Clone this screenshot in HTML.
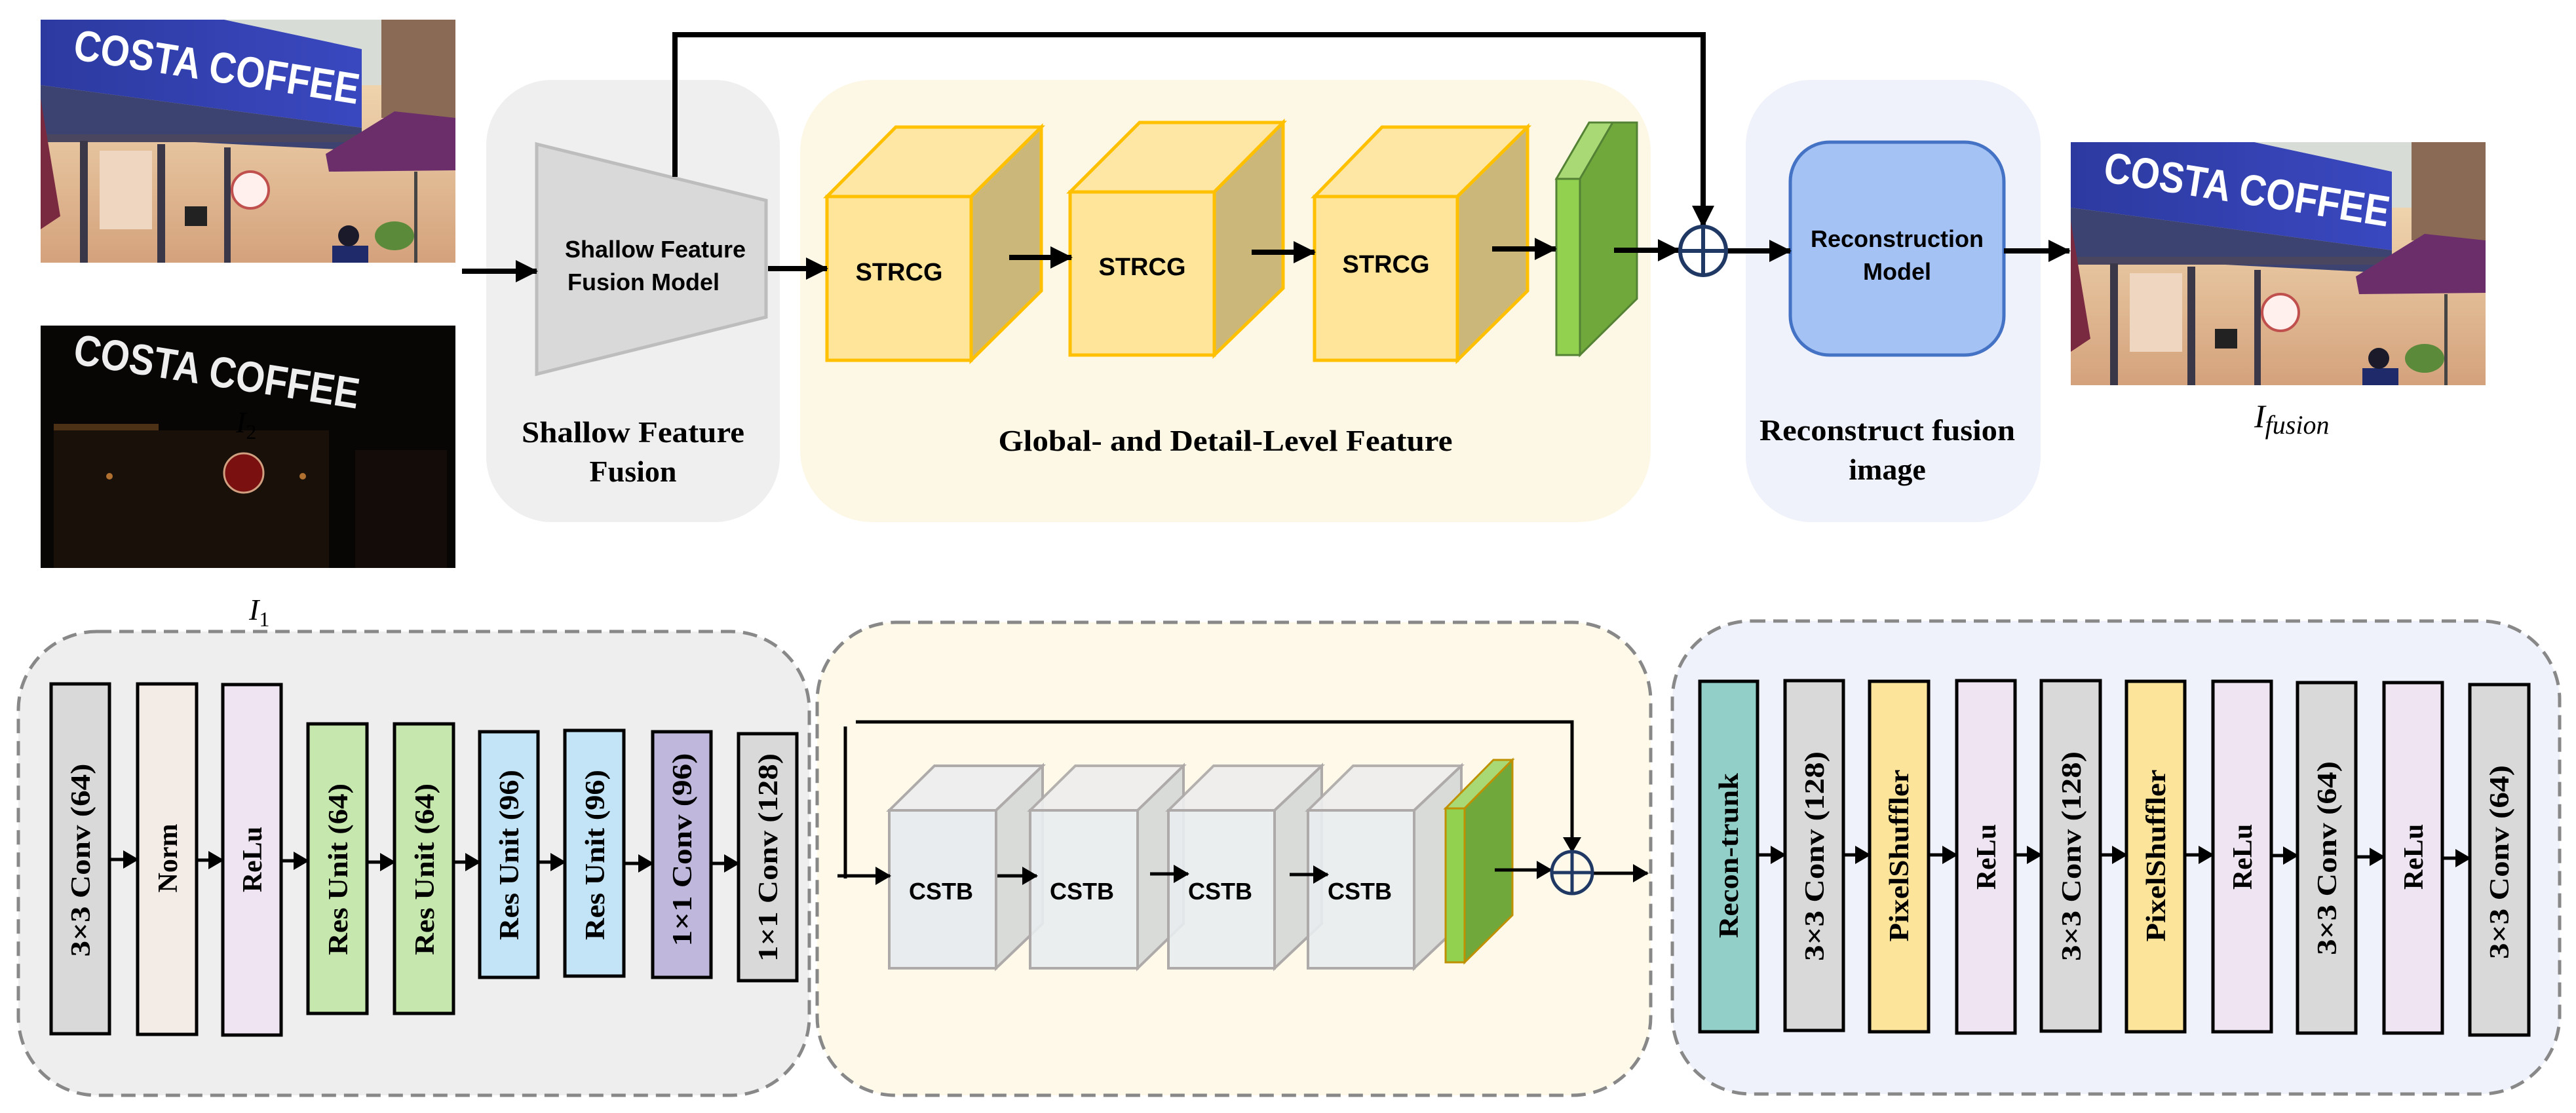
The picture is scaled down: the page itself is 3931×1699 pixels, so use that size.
<!DOCTYPE html>
<html><head><meta charset="utf-8"><style>
html,body{margin:0;padding:0;background:#fff;}
svg{display:block;}
.sans{font-family:"Liberation Sans",sans-serif;font-weight:bold;}
.serif{font-family:"Liberation Serif",serif;font-weight:bold;}
</style></head><body>
<svg width="3931" height="1699" viewBox="0 0 3931 1699" xmlns="http://www.w3.org/2000/svg">
<defs>
<marker id="ab" markerUnits="userSpaceOnUse" markerWidth="34" markerHeight="34" refX="32" refY="17" orient="auto"><path d="M0,0 L34,17 L0,34 z" fill="#000"/></marker>
<marker id="as" markerUnits="userSpaceOnUse" markerWidth="24" markerHeight="28" refX="22" refY="14" orient="auto"><path d="M0,0 L24,14 L0,28 z" fill="#000"/></marker>
<linearGradient id="signg" x1="0" y1="0" x2="1" y2="0"><stop offset="0" stop-color="#2c3aa0"/><stop offset="1" stop-color="#3a48c0"/></linearGradient>
<linearGradient id="inner" x1="0" y1="0" x2="0" y2="1"><stop offset="0" stop-color="#f8e6c0"/><stop offset="1" stop-color="#d4a27c"/></linearGradient>
<g id="photo">
  <rect x="0" y="0" width="633" height="371" fill="url(#inner)"/>
  <rect x="280" y="0" width="353" height="100" fill="#d8dcd6"/>
  <rect x="520" y="0" width="113" height="150" fill="#8a6a55"/>
  <polygon points="0,0 280,0 490,45 490,165 0,100" fill="url(#signg)"/>
  <polygon points="0,100 490,165 490,200 0,175" fill="#3c4370"/>
  <rect x="0" y="175" width="633" height="12" fill="#4a4660"/>
  <rect x="60" y="185" width="12" height="186" fill="#3a3848"/>
  <rect x="178" y="190" width="12" height="181" fill="#3a3848"/>
  <rect x="280" y="195" width="10" height="176" fill="#3a3848"/>
  <rect x="90" y="200" width="80" height="120" fill="#efd6c0"/>
  <circle cx="320" cy="260" r="28" fill="#fff0ee" stroke="#c0504d" stroke-width="4"/>
  <rect x="220" y="285" width="34" height="30" fill="#222"/>
  <polygon points="435,205 540,140 633,150 633,230 440,232" fill="#6b2e6a"/>
  <polygon points="0,120 30,300 0,320" fill="#7a2a40"/>
  <rect x="570" y="232" width="5" height="139" fill="#444"/>
  <ellipse cx="540" cy="330" rx="30" ry="22" fill="#5a8a3a"/>
  <rect x="445" y="345" width="55" height="26" fill="#1e2a6a"/>
  <circle cx="470" cy="330" r="16" fill="#1a1a2a"/>
  <g transform="translate(48,60) rotate(9)"><text x="0" y="0" font-family="Liberation Sans,sans-serif" font-weight="bold" font-size="66" fill="#fff" textLength="440" lengthAdjust="spacingAndGlyphs">COSTA COFFEE</text></g>
</g>
</defs>

<use href="#photo" x="62" y="30"/>
<g transform="translate(62,497)">
  <rect x="0" y="0" width="633" height="370" fill="#080505"/>
  <rect x="20" y="150" width="160" height="10" fill="#6a4420" opacity="0.7"/>
  <rect x="20" y="160" width="420" height="210" fill="#1a100a"/>
  <rect x="480" y="190" width="140" height="180" fill="#140c08"/>
  <circle cx="310" cy="225" r="30" fill="#7a1010" stroke="#d0a080" stroke-width="3"/>
  <circle cx="105" cy="230" r="5" fill="#b07030"/>
  <circle cx="400" cy="230" r="5" fill="#b07030"/>
  <g transform="translate(48,58) rotate(9)"><text x="0" y="0" font-family="Liberation Sans,sans-serif" font-weight="bold" font-size="66" fill="#eee" textLength="440" lengthAdjust="spacingAndGlyphs">COSTA COFFEE</text></g>
</g>
<use href="#photo" x="3160" y="217"/>

<text x="360" y="660" font-family="Liberation Serif,serif" font-style="italic" font-size="46">I<tspan font-size="32" dy="10" font-style="normal">2</tspan></text>
<text x="380" y="946" font-family="Liberation Serif,serif" font-style="italic" font-size="46">I<tspan font-size="32" dy="10" font-style="normal">1</tspan></text>
<text x="3440" y="652" font-family="Liberation Serif,serif" font-style="italic" font-size="50">I<tspan font-size="40" dy="10">fusion</tspan></text>

<rect x="742" y="122" width="448" height="675" rx="100" fill="#efefef"/>
<rect x="1221" y="122" width="1298" height="675" rx="110" fill="#fdf8e6"/>
<rect x="2664" y="122" width="450" height="675" rx="100" fill="#eff2fa"/>

<polygon points="819,220 1169,306 1169,484 819,571" fill="#d9d9d9" stroke="#bdbdbd" stroke-width="5"/>
<text class="sans" x="1000" y="393" font-size="36" text-anchor="middle">Shallow Feature</text>
<text class="sans" x="982" y="443" font-size="36" text-anchor="middle">Fusion Model</text>
<text class="serif" x="966" y="675" font-size="46" text-anchor="middle" textLength="340" lengthAdjust="spacingAndGlyphs">Shallow Feature</text>
<text class="serif" x="966" y="735" font-size="46" text-anchor="middle">Fusion</text>

<g stroke="#ffc000" stroke-width="5" stroke-linejoin="miter">
  <polygon points="1262,300 1367,194 1589,194 1482,300" fill="#fee7a4"/>
  <polygon points="1482,300 1589,194 1589,444 1482,550" fill="#cbb77a"/>
  <rect x="1262" y="300" width="220" height="250" fill="#fee599"/>
  <polygon points="1633,293 1739,187 1958,187 1853,293" fill="#fee7a4"/>
  <polygon points="1853,293 1958,187 1958,440 1853,542" fill="#cbb77a"/>
  <rect x="1633" y="293" width="220" height="249" fill="#fee599"/>
  <polygon points="2006,300 2109,194 2331,194 2224,300" fill="#fee7a4"/>
  <polygon points="2224,300 2331,194 2331,444 2224,550" fill="#cbb77a"/>
  <rect x="2006" y="300" width="218" height="250" fill="#fee599"/>
</g>
<text class="sans" x="1372" y="428" font-size="38" text-anchor="middle">STRCG</text>
<text class="sans" x="1743" y="420" font-size="38" text-anchor="middle">STRCG</text>
<text class="sans" x="2115" y="416" font-size="38" text-anchor="middle">STRCG</text>
<g stroke="#548235" stroke-width="3">
  <polygon points="2375,273 2425,187 2461,187 2411,273" fill="#a9d975"/>
  <polygon points="2411,273 2461,187 2498,187 2498,456 2411,542" fill="#70a83c"/>
  <rect x="2375" y="273" width="36" height="269" fill="#92d050"/>
</g>
<text class="serif" x="1870" y="688" font-size="46" text-anchor="middle" textLength="693" lengthAdjust="spacingAndGlyphs">Global- and Detail-Level Feature</text>

<rect x="2732" y="217" width="326" height="325" rx="60" fill="#a4c2f4" stroke="#4472c4" stroke-width="5"/>
<text class="sans" x="2895" y="377" font-size="36" text-anchor="middle">Reconstruction</text>
<text class="sans" x="2895" y="427" font-size="36" text-anchor="middle">Model</text>
<text class="serif" x="2880" y="672" font-size="46" text-anchor="middle" textLength="390" lengthAdjust="spacingAndGlyphs">Reconstruct fusion</text>
<text class="serif" x="2880" y="732" font-size="46" text-anchor="middle">image</text>

<g stroke="#000" stroke-width="8" fill="none">
  <line x1="705" y1="414" x2="819" y2="414" marker-end="url(#ab)"/>
  <line x1="1172" y1="410" x2="1262" y2="410" marker-end="url(#ab)"/>
  <line x1="1540" y1="393" x2="1635" y2="393" marker-end="url(#ab)"/>
  <line x1="1910" y1="385" x2="2006" y2="385" marker-end="url(#ab)"/>
  <line x1="2277" y1="380" x2="2374" y2="380" marker-end="url(#ab)"/>
  <line x1="2463" y1="382" x2="2562" y2="382" marker-end="url(#ab)"/>
  <line x1="2636" y1="383" x2="2732" y2="383" marker-end="url(#ab)"/>
  <line x1="3058" y1="383" x2="3158" y2="383" marker-end="url(#ab)"/>
  <polyline points="1030,270 1030,53 2599,53 2599,346" marker-end="url(#ab)"/>
</g>
<ellipse cx="2599" cy="383" rx="35" ry="37" fill="none" stroke="#1f3864" stroke-width="6"/>
<line x1="2564" y1="383" x2="2634" y2="383" stroke="#1f3864" stroke-width="6"/>
<line x1="2599" y1="346" x2="2599" y2="420" stroke="#1f3864" stroke-width="6"/>

<rect x="28" y="964" width="1207" height="708" rx="120" fill="#eeeeee" stroke="#888" stroke-width="5" stroke-dasharray="22,12"/>
<rect x="1247" y="950" width="1272" height="722" rx="120" fill="#fef9e8" stroke="#888" stroke-width="5" stroke-dasharray="22,12"/>
<rect x="2552" y="948" width="1354" height="722" rx="120" fill="#eff2fa" stroke="#888" stroke-width="5" stroke-dasharray="22,12"/>

<g stroke="#000" stroke-width="5">
  <rect x="78" y="1044" width="89" height="534" fill="#d9d9d9"/>
  <rect x="210" y="1044" width="90" height="535" fill="#f3ebe6"/>
  <rect x="340" y="1045" width="89" height="535" fill="#efe4f2"/>
  <rect x="470" y="1105" width="90" height="442" fill="#c6e7ae"/>
  <rect x="602" y="1105" width="90" height="442" fill="#c6e7ae"/>
  <rect x="732" y="1117" width="89" height="375" fill="#c3e4f6"/>
  <rect x="862" y="1115" width="90" height="375" fill="#c3e4f6"/>
  <rect x="996" y="1117" width="89" height="375" fill="#bfb8dc"/>
  <rect x="1127" y="1120" width="89" height="377" fill="#d9d9d9"/>
</g>
<g class="serif" font-size="42" text-anchor="middle">
  <text transform="translate(137,1313) rotate(-90)" textLength="295" lengthAdjust="spacingAndGlyphs">3×3 Conv (64)</text>
  <text transform="translate(270,1310) rotate(-90)">Norm</text>
  <text transform="translate(399,1312) rotate(-90)">ReLu</text>
  <text transform="translate(530,1327) rotate(-90)" textLength="262" lengthAdjust="spacingAndGlyphs">Res Unit (64)</text>
  <text transform="translate(662,1327) rotate(-90)" textLength="262" lengthAdjust="spacingAndGlyphs">Res Unit (64)</text>
  <text transform="translate(791,1305) rotate(-90)" textLength="260" lengthAdjust="spacingAndGlyphs">Res Unit (96)</text>
  <text transform="translate(922,1305) rotate(-90)" textLength="260" lengthAdjust="spacingAndGlyphs">Res Unit (96)</text>
  <text transform="translate(1055,1297) rotate(-90)" textLength="295" lengthAdjust="spacingAndGlyphs">1×1 Conv (96)</text>
  <text transform="translate(1186,1309) rotate(-90)" textLength="318" lengthAdjust="spacingAndGlyphs">1×1 Conv (128)</text>
</g>
<g stroke="#000" stroke-width="5">
  <line x1="167" y1="1312" x2="210" y2="1312" marker-end="url(#as)"/>
  <line x1="300" y1="1313" x2="340" y2="1313" marker-end="url(#as)"/>
  <line x1="429" y1="1314" x2="470" y2="1314" marker-end="url(#as)"/>
  <line x1="560" y1="1316" x2="602" y2="1316" marker-end="url(#as)"/>
  <line x1="692" y1="1316" x2="732" y2="1316" marker-end="url(#as)"/>
  <line x1="821" y1="1316" x2="862" y2="1316" marker-end="url(#as)"/>
  <line x1="952" y1="1318" x2="996" y2="1318" marker-end="url(#as)"/>
  <line x1="1085" y1="1318" x2="1127" y2="1318" marker-end="url(#as)"/>
</g>

<g stroke="#aeaaaa" stroke-width="4">
  <polygon points="1357,1237 1426,1169 1591,1169 1520,1237" fill="#eeeeee"/>
  <polygon points="1520,1237 1591,1169 1591,1410 1520,1478" fill="#d9dbd9"/>
  <rect x="1357" y="1237" width="163" height="241" fill="#e9ecee"/>
  <polygon points="1572,1237 1641,1169 1806,1169 1736,1237" fill="#eeeeee" opacity="0.92"/>
  <polygon points="1736,1237 1806,1169 1806,1410 1736,1478" fill="#d9dbd9"/>
  <rect x="1572" y="1237" width="164" height="241" fill="#e9ecee" fill-opacity="0.9"/>
  <polygon points="1783,1237 1852,1169 2017,1169 1945,1237" fill="#eeeeee" opacity="0.92"/>
  <polygon points="1945,1237 2017,1169 2017,1410 1945,1478" fill="#d9dbd9"/>
  <rect x="1783" y="1237" width="162" height="241" fill="#e9ecee" fill-opacity="0.9"/>
  <polygon points="1996,1237 2065,1169 2230,1169 2158,1237" fill="#eeeeee" opacity="0.92"/>
  <polygon points="2158,1237 2230,1169 2230,1410 2158,1478" fill="#d9dbd9"/>
  <rect x="1996" y="1237" width="162" height="241" fill="#e9ecee" fill-opacity="0.9"/>
</g>
<g class="sans" font-size="36" text-anchor="middle">
  <text x="1436" y="1373">CSTB</text>
  <text x="1651" y="1373">CSTB</text>
  <text x="1862" y="1373">CSTB</text>
  <text x="2075" y="1373">CSTB</text>
</g>
<g stroke="#bf9000" stroke-width="3">
  <polygon points="2206,1234 2279,1160 2308,1160 2235,1234" fill="#a9d975"/>
  <polygon points="2235,1234 2308,1160 2308,1397 2235,1469" fill="#70a83c"/>
  <rect x="2206" y="1234" width="29" height="235" fill="#92d050"/>
</g>
<g stroke="#000" stroke-width="5" fill="none">
  <line x1="1290" y1="1109" x2="1290" y2="1341"/>
  <line x1="1278" y1="1337" x2="1358" y2="1337" marker-end="url(#as)"/>
  <line x1="1522" y1="1337" x2="1582" y2="1337" marker-end="url(#as)"/>
  <line x1="1755" y1="1334" x2="1813" y2="1334" marker-end="url(#as)"/>
  <line x1="1968" y1="1335" x2="2026" y2="1335" marker-end="url(#as)"/>
  <line x1="2281" y1="1328" x2="2367" y2="1328" marker-end="url(#as)"/>
  <line x1="2431" y1="1333" x2="2514" y2="1333" marker-end="url(#as)"/>
  <polyline points="1306,1102 2399,1102 2399,1300" marker-end="url(#as)"/>
</g>
<ellipse cx="2399" cy="1332" rx="31" ry="32" fill="none" stroke="#1f3864" stroke-width="5"/>
<line x1="2368" y1="1332" x2="2430" y2="1332" stroke="#1f3864" stroke-width="5"/>
<line x1="2399" y1="1300" x2="2399" y2="1364" stroke="#1f3864" stroke-width="5"/>

<g stroke="#000" stroke-width="5">
  <rect x="2594" y="1040" width="88" height="535" fill="#92cfc9"/>
  <rect x="2724" y="1039" width="89" height="534" fill="#d9d9d9"/>
  <rect x="2853" y="1040" width="90" height="535" fill="#fde49b"/>
  <rect x="2986" y="1039" width="89" height="538" fill="#efe4f2"/>
  <rect x="3115" y="1039" width="90" height="535" fill="#d9d9d9"/>
  <rect x="3245" y="1040" width="89" height="535" fill="#fde49b"/>
  <rect x="3377" y="1040" width="89" height="535" fill="#efe4f2"/>
  <rect x="3506" y="1042" width="89" height="535" fill="#d9d9d9"/>
  <rect x="3638" y="1042" width="89" height="535" fill="#efe4f2"/>
  <rect x="3769" y="1045" width="90" height="535" fill="#d9d9d9"/>
</g>
<g class="serif" font-size="42" text-anchor="middle">
  <text transform="translate(2652,1306) rotate(-90)" textLength="252" lengthAdjust="spacingAndGlyphs">Recon-trunk</text>
  <text transform="translate(2783,1307) rotate(-90)" textLength="320" lengthAdjust="spacingAndGlyphs">3×3 Conv (128)</text>
  <text transform="translate(2912,1306) rotate(-90)" textLength="263" lengthAdjust="spacingAndGlyphs">PixelShuffler</text>
  <text transform="translate(3045,1308) rotate(-90)">ReLu</text>
  <text transform="translate(3175,1307) rotate(-90)" textLength="320" lengthAdjust="spacingAndGlyphs">3×3 Conv (128)</text>
  <text transform="translate(3304,1306) rotate(-90)" textLength="263" lengthAdjust="spacingAndGlyphs">PixelShuffler</text>
  <text transform="translate(3436,1308) rotate(-90)">ReLu</text>
  <text transform="translate(3565,1310) rotate(-90)" textLength="296" lengthAdjust="spacingAndGlyphs">3×3 Conv (64)</text>
  <text transform="translate(3697,1308) rotate(-90)">ReLu</text>
  <text transform="translate(3828,1316) rotate(-90)" textLength="296" lengthAdjust="spacingAndGlyphs">3×3 Conv (64)</text>
</g>
<g stroke="#000" stroke-width="5">
  <line x1="2682" y1="1305" x2="2724" y2="1305" marker-end="url(#as)"/>
  <line x1="2813" y1="1305" x2="2853" y2="1305" marker-end="url(#as)"/>
  <line x1="2943" y1="1305" x2="2986" y2="1305" marker-end="url(#as)"/>
  <line x1="3075" y1="1305" x2="3115" y2="1305" marker-end="url(#as)"/>
  <line x1="3205" y1="1305" x2="3245" y2="1305" marker-end="url(#as)"/>
  <line x1="3334" y1="1305" x2="3377" y2="1305" marker-end="url(#as)"/>
  <line x1="3466" y1="1306" x2="3506" y2="1306" marker-end="url(#as)"/>
  <line x1="3595" y1="1308" x2="3638" y2="1308" marker-end="url(#as)"/>
  <line x1="3727" y1="1310" x2="3769" y2="1310" marker-end="url(#as)"/>
</g>
</svg>
</body></html>
